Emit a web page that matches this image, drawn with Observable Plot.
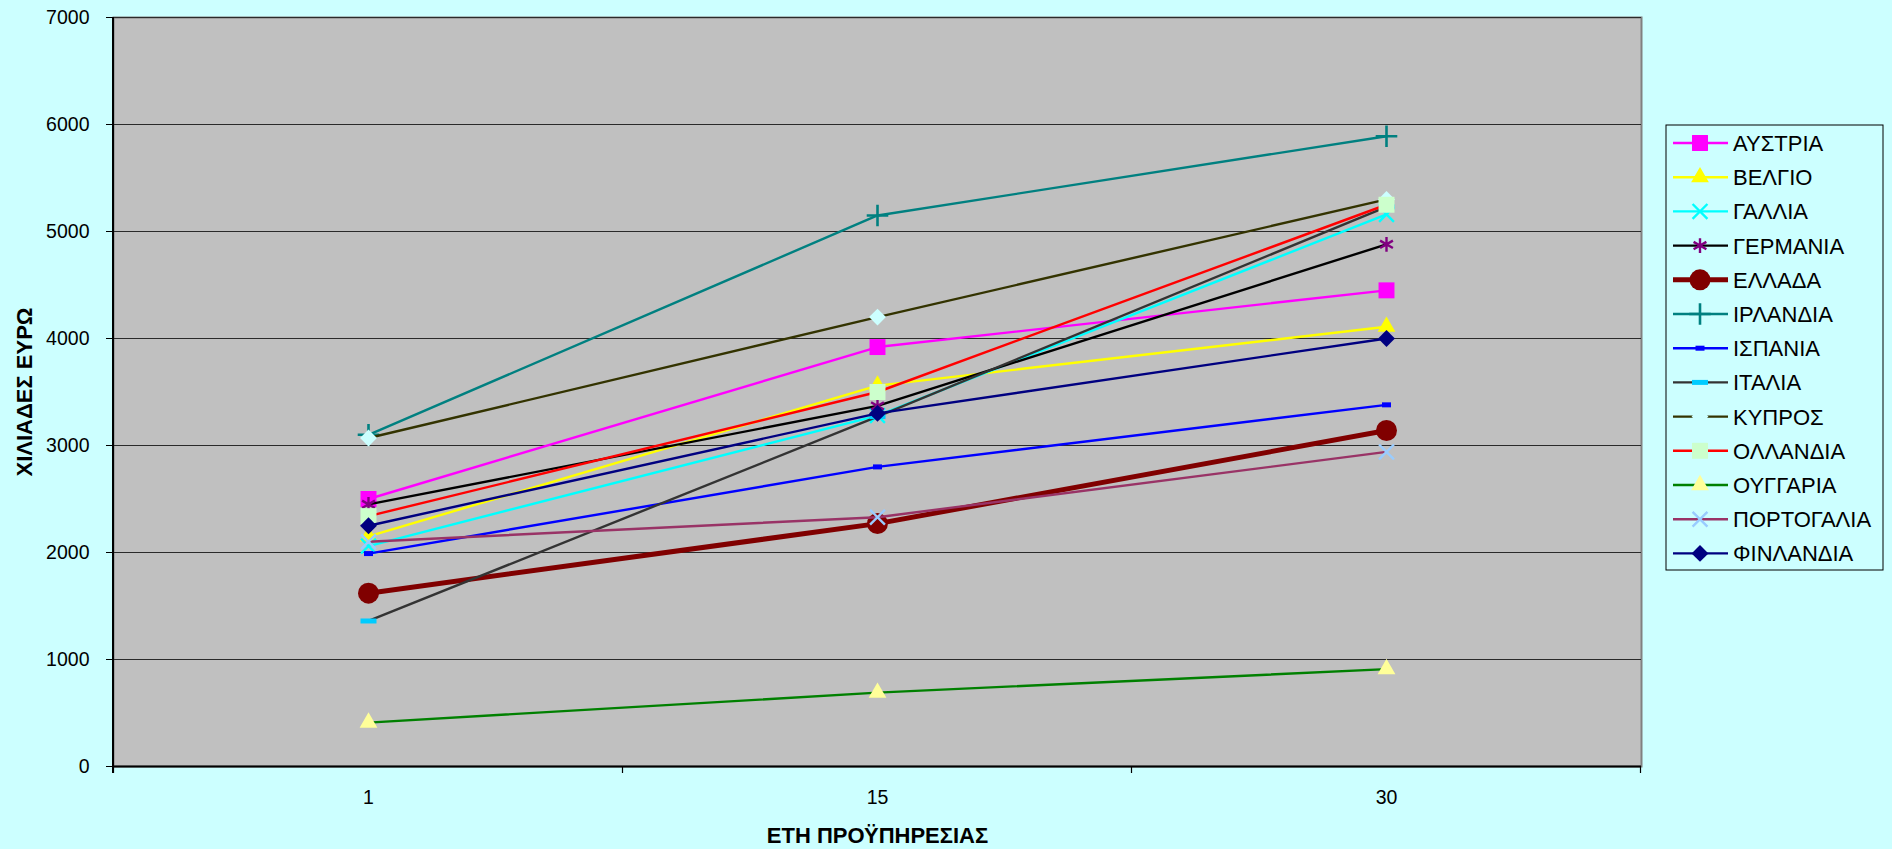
<!DOCTYPE html>
<html><head><meta charset="utf-8">
<script src="https://cdn.jsdelivr.net/npm/d3@7"></script>
<script src="https://cdn.jsdelivr.net/npm/@observablehq/plot@0.6"></script>
<style>
html,body{margin:0;padding:0;background:#CCFFFF;}
#chart{position:relative;width:1892px;height:849px;}
</style></head><body><div id="chart"></div>
<script>
// ---- data ----
const years = ["1", "15", "30"];
const countries = ["ΑΥΣΤΡΙΑ","ΒΕΛΓΙΟ","ΓΑΛΛΙΑ","ΓΕΡΜΑΝΙΑ","ΕΛΛΑΔΑ","ΙΡΛΑΝΔΙΑ","ΙΣΠΑΝΙΑ","ΙΤΑΛΙΑ","ΚΥΠΡΟΣ","ΟΛΛΑΝΔΙΑ","ΟΥΓΓΑΡΙΑ","ΠΟΡΤΟΓΑΛΙΑ","ΦΙΝΛΑΝΔΙΑ"];
const AUSTRIA    = [2500, 3920, 4450];
const BELGIO     = [2150, 3560, 4110];
const GALLIA     = [2060, 3280, 5160];
const GERMANIA   = [2450, 3370, 4880];
const ELLADA     = [1620, 2270, 3140];
const IRLANDIA   = [3100, 5150, 5890];
const ISPANIA    = [1990, 2800, 3380];
const ITALIA     = [1360, 3270, 5230];
const KYPROS     = [3070, 4200, 5300];
const OLLANDIA   = [2340, 3500, 5250];
const OUGGARIA   = [410, 690, 910];
const PORTOGALIA = [2100, 2330, 2940];
const FINLANDIA  = [2250, 3300, 4000];
const seriesValues = [AUSTRIA,BELGIO,GALLIA,GERMANIA,ELLADA,IRLANDIA,ISPANIA,ITALIA,KYPROS,OLLANDIA,OUGGARIA,PORTOGALIA,FINLANDIA];
const yTicks = [0, 1000, 2000, 3000, 4000, 5000, 6000, 7000];
const yTitle = "ΧΙΛΙΑΔΕΣ ΕΥΡΩ";
const xTitle = "ΕΤΗ ΠΡΟΫΠΗΡΕΣΙΑΣ";

// ---- styles ----
const lineColors   = ["#FF00FF","#FFFF00","#00FFFF","#000000","#800000","#008080","#0000FF","#333333","#333300","#FF0000","#008000","#993366","#000080"];
const markerColors = ["#FF00FF","#FFFF00","#00FFFF","#800080","#800000","#008080","#0000FF","#00CCFF","#CCFFFF","#CCFFCC","#FFFF99","#99CCFF","#000080"];
const lineWidths   = [2.4,2.4,2.4,2.4,5,2.4,2.4,2.4,2.4,2.4,2.4,2.4,2.4];
const rectSym = (w, h) => ({draw(ctx) { ctx.moveTo(-w/2, -h/2); ctx.lineTo(w/2, -h/2); ctx.lineTo(w/2, h/2); ctx.lineTo(-w/2, h/2); ctx.closePath(); }});
const markerStyles = [
  {sym: d3.symbolSquare, r: 9},
  {sym: d3.symbolTriangle, r: 6.6},
  {sym: d3.symbolTimes, r: 6.8, stroke: true, sw: 2.4},
  {sym: d3.symbolAsterisk, r: 7, stroke: true, sw: 2.4},
  {sym: d3.symbolCircle, r: 10.5},
  {sym: d3.symbolPlus, r: 7, stroke: true, sw: 2.6},
  {sym: rectSym(9, 5), r: 5},
  {sym: rectSym(16, 5), r: 5},
  {sym: d3.symbolDiamond2, r: 7.6},
  {sym: d3.symbolSquare, r: 9},
  {sym: d3.symbolTriangle, r: 6.6},
  {sym: d3.symbolTimes, r: 6.8, stroke: true, sw: 2.4},
  {sym: d3.symbolDiamond2, r: 7.6}
];
const FONT = "'Liberation Sans', Arial, sans-serif";

const table = countries.flatMap((c, i) => years.map((yr, j) => ({country: c, year: yr, value: seriesValues[i][j]})));

const marks = [
  Plot.frame({fill: "#C0C0C0", stroke: "#808080", strokeWidth: 2}),
  Plot.ruleY(yTicks, {stroke: "#2a2a2a", strokeWidth: 1})
];
countries.forEach((c, i) => {
  const d = table.filter(r => r.country === c);
  const m = markerStyles[i];
  marks.push(Plot.line(d, {x: "year", y: "value", stroke: lineColors[i], strokeWidth: lineWidths[i]}));
  marks.push(Plot.dot(d, {
    x: "year", y: "value", symbol: m.sym, r: m.r,
    fill: m.stroke ? "none" : markerColors[i],
    stroke: m.stroke ? markerColors[i] : "none",
    strokeWidth: m.sw || 1
  }));
});
marks.push(Plot.ruleY([0], {stroke: "#000", strokeWidth: 2}));
marks.push(Plot.text([yTitle], {text: d => d, frameAnchor: "left", textAnchor: "middle", rotate: -90, dx: -89, fontWeight: "bold", fontSize: 22, fill: "#000"}));
marks.push(Plot.text([xTitle], {text: d => d, frameAnchor: "bottom", textAnchor: "middle", dy: 76, fontWeight: "bold", fontSize: 22, fill: "#000"}));

const plot = Plot.plot({
  width: 1892, height: 849,
  marginLeft: 113, marginRight: 251, marginTop: 17, marginBottom: 83,
  x: {type: "point", domain: years, padding: 0.5, label: null, tickSize: 0, tickPadding: 24},
  y: {domain: [0, 7000], ticks: yTicks, tickSize: 7, tickPadding: 17, label: null, tickFormat: d => String(d)},
  style: {background: "transparent", fontFamily: FONT, fontSize: "19.5px", color: "#000", overflow: "visible"},
  marks
});
document.getElementById("chart").appendChild(plot);

// axis line and category boundary ticks, from the plot's own scales
const xs = plot.scale("x"), ys = plot.scale("y");
const svg = d3.select(plot);
const x0 = xs.range[0], x1 = xs.range[1];
const step = xs.step || (x1 - x0) / years.length;
const yb = ys.apply(0), yt = ys.apply(7000);
const ax = svg.append("g").attr("stroke", "#000");
ax.append("line").attr("x1", x0).attr("x2", x0).attr("y1", yt).attr("y2", yb + 7).attr("stroke-width", 2);
const bounds = years.map(v => xs.apply(v) - step / 2).concat([xs.apply(years[years.length - 1]) + step / 2]);
bounds.forEach(b => ax.append("line").attr("x1", b).attr("x2", b).attr("y1", yb).attr("y2", yb + 7).attr("stroke-width", 1.2));

// legend
const lg = svg.append("g").attr("font-family", FONT).attr("font-size", 22).attr("text-anchor", "start");
lg.append("rect").attr("x", 1666).attr("y", 125).attr("width", 217).attr("height", 445).attr("fill", "none").attr("stroke", "#000").attr("stroke-width", 1);
countries.forEach((c, i) => {
  const y = 143 + i * 34.2;
  const m = markerStyles[i];
  lg.append("line").attr("x1", 1673).attr("x2", 1728).attr("y1", y).attr("y2", y).attr("stroke", lineColors[i]).attr("stroke-width", lineWidths[i]);
  lg.append("path").attr("transform", `translate(1700,${y})`)
    .attr("d", d3.symbol(m.sym, Math.PI * m.r * m.r)())
    .attr("fill", m.stroke ? "none" : markerColors[i])
    .attr("stroke", m.stroke ? markerColors[i] : "none")
    .attr("stroke-width", m.sw || 1);
  lg.append("text").attr("x", 1733).attr("y", y).attr("dy", "0.36em").attr("fill", "#000").attr("text-anchor", "start").text(c);
});
</script></body></html>
